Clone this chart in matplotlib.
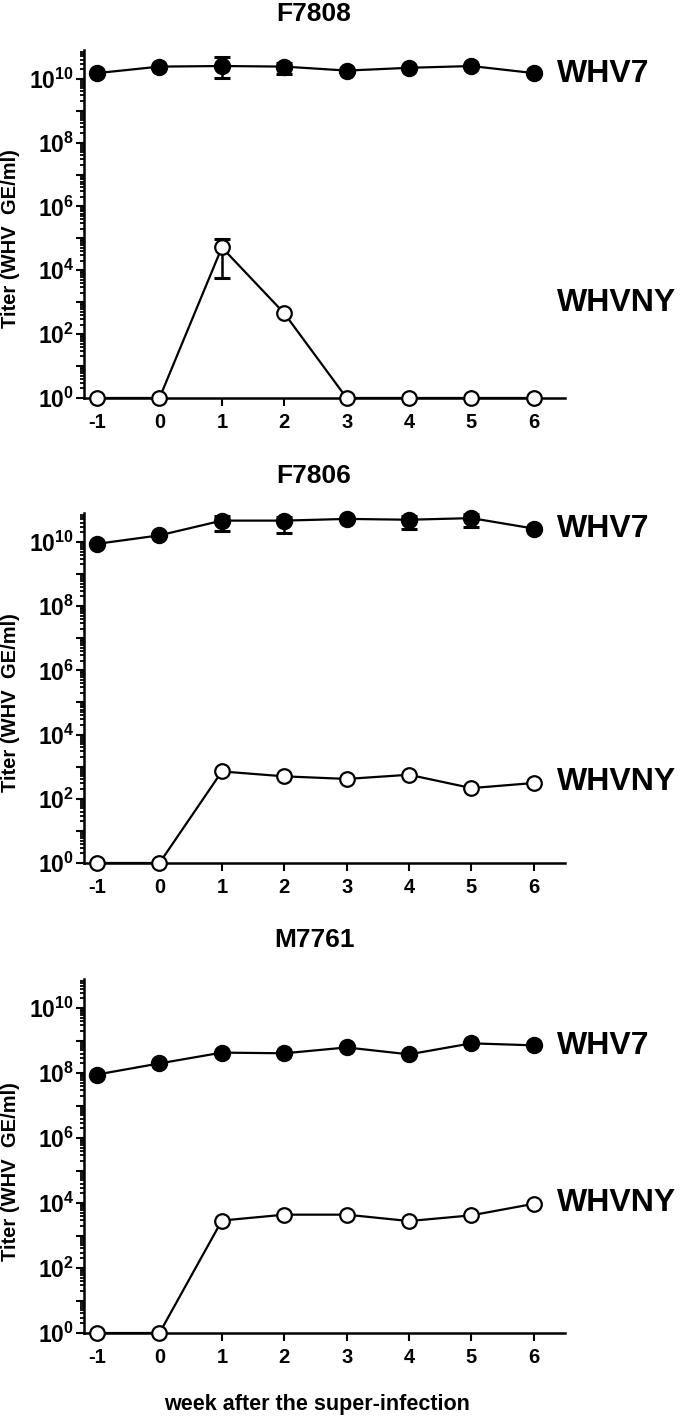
import numpy as np
import matplotlib
matplotlib.use('Agg')
import matplotlib.pyplot as plt
from matplotlib.ticker import FixedLocator, FuncFormatter, LogLocator, NullFormatter
import matplotlib.transforms as mtransforms

FONT = ['Liberation Sans', 'DejaVu Sans']
plt.rcParams['font.family'] = FONT
plt.rcParams['font.weight'] = 'bold'
plt.rcParams['axes.unicode_minus'] = False
plt.rcParams['mathtext.fontset'] = 'custom'
plt.rcParams['mathtext.rm'] = 'Liberation Sans:bold'
plt.rcParams['mathtext.bf'] = 'Liberation Sans:bold'
plt.rcParams['mathtext.it'] = 'Liberation Sans:bold'

# ---------------- data ----------------
weeks = [-1, 0, 1, 2, 3, 4, 5, 6]
animals = ['F7808', 'F7806', 'M7761']
series_names = ['WHV7', 'WHVNY']
nan = float('nan')

f7808_whv7 = [1.5e10, 2.4e10, 2.5e10, 2.4e10, 1.8e10, 2.2e10, 2.5e10, 1.5e10]
f7808_whv7_lo = [nan, nan, 1.05e10, 1.4e10, nan, nan, nan, nan]
f7808_whv7_hi = [nan, nan, 4.9e10, 3.2e10, nan, nan, nan, nan]
f7808_whvny = [1, 1, 5.2e4, 4.5e2, 1, 1, 1, 1]
f7808_whvny_lo = [nan, nan, 5.6e3, nan, nan, nan, nan, nan]
f7808_whvny_hi = [nan, nan, 9.3e4, nan, nan, nan, nan, nan]

f7806_whv7 = [8.7e9, 1.6e10, 4.6e10, 4.6e10, 5.2e10, 4.9e10, 5.5e10, 2.6e10]
f7806_whv7_lo = [nan, nan, 2.2e10, 1.9e10, nan, 2.5e10, 3.0e10, nan]
f7806_whv7_hi = [nan, nan, 6.3e10, 6.0e10, nan, 6.3e10, 7.5e10, nan]
f7806_whvny = [1, 1, 710, 500, 415, 560, 215, 310]

m7761_whv7 = [9.1e7, 2.0e8, 4.3e8, 4.1e8, 6.2e8, 3.8e8, 8.3e8, 7.2e8]
m7761_whvny = [1, 1, 2.9e3, 4.4e3, 4.4e3, 2.8e3, 4.2e3, 9.5e3]

none8 = [nan] * 8
panels = [
    (f7808_whv7, f7808_whv7_lo, f7808_whv7_hi, f7808_whvny, f7808_whvny_lo, f7808_whvny_hi),
    (f7806_whv7, f7806_whv7_lo, f7806_whv7_hi, f7806_whvny, none8, none8),
    (m7761_whv7, none8, none8, m7761_whvny, none8, none8),
]

# ---------------- layout ----------------
W, H = 680, 1419
fig = plt.figure(figsize=(W / 100, H / 100), dpi=100)
ax_px = [(84, 50, 565, 398), (84, 513, 565, 863), (84, 979, 565, 1333)]  # left, top, right, bottom
title_y_px = [14, 476, 940]
label_y_log = [(10.16, 2.97), (10.40, 2.53), (8.83, 4.01)]

def fmt(v, pos):
    e = int(round(np.log10(v)))
    if e % 2 == 0:
        return r'$\mathbf{10^{%d}}$' % e
    return ''

for i, (l, t, r, b) in enumerate(ax_px):
    ax = fig.add_axes([l / W, 1 - b / H, (r - l) / W, (b - t) / H])
    whv7, lo7, hi7, ny, lony, hiny = panels[i]
    ax.set_yscale('log')
    ax.set_ylim(1, 10 ** 10.9)
    ax.set_xlim(-1.21, 6.5)

    # lines and markers
    ax.plot(weeks, whv7, color='black', lw=1.6, marker='o', ms=11.5,
            mfc='black', mec='black', clip_on=False, zorder=4)
    ax.plot(weeks, ny, color='black', lw=1.6, marker='o', ms=10.5,
            mfc='white', mec='black', mew=1.6, clip_on=False, zorder=4)

    # error bars
    for vals, lo, hi in ((whv7, lo7, hi7), (ny, lony, hiny)):
        idx = [k for k in range(len(weeks)) if not np.isnan(lo[k])]
        if idx:
            xs = [weeks[k] for k in idx]
            ys = [vals[k] for k in idx]
            yerr = [[vals[k] - lo[k] for k in idx], [hi[k] - vals[k] for k in idx]]
            ax.errorbar(xs, ys, yerr=yerr, fmt='none', ecolor='black',
                        elinewidth=1.8, capsize=6, capthick=2.2, zorder=3, clip_on=False)

    # axes styling
    for s in ('top', 'right'):
        ax.spines[s].set_visible(False)
    for s in ('left', 'bottom'):
        ax.spines[s].set_linewidth(1.8)
    ax.yaxis.set_major_locator(FixedLocator([10.0 ** e for e in range(0, 11)]))
    ax.yaxis.set_major_formatter(FuncFormatter(fmt))
    ax.yaxis.set_minor_locator(LogLocator(base=10, subs=np.arange(2, 10), numticks=50))
    ax.yaxis.set_minor_formatter(NullFormatter())
    ax.xaxis.set_major_locator(FixedLocator(weeks))
    ax.tick_params(axis='y', which='major', length=5.5, width=1.5, pad=1.5, labelsize=16.5)
    ax.tick_params(axis='y', which='minor', length=3.2, width=1.3)
    ax.tick_params(axis='x', which='major', length=5.5, width=1.5, pad=5, labelsize=14.5)
    for lab in ax.get_xticklabels():
        lab.set_fontweight('bold')

    ax.set_ylabel('Titer (WHV  GE/ml)', fontsize=14.5, fontweight='bold', va='center')
    ax.yaxis.set_label_coords(-0.152, 0.457)

    trans = mtransforms.blended_transform_factory(ax.transAxes, ax.transData)
    for name, ly in zip(series_names, label_y_log[i]):
        ax.text(0.983, 10 ** ly, name, transform=trans, ha='left', va='center',
                fontsize=23, fontweight='bold', clip_on=False)

    fig.text(314 / W, 1 - title_y_px[i] / H, animals[i], ha='center', va='center',
             fontsize=19, fontweight='bold')

    if i == 2:
        ax.set_xlabel('week after the super-infection', fontsize=15.5, fontweight='bold', va='center')
        ax.xaxis.set_label_coords(0.484, -0.203)

fig.savefig('out.png', dpi=100)
